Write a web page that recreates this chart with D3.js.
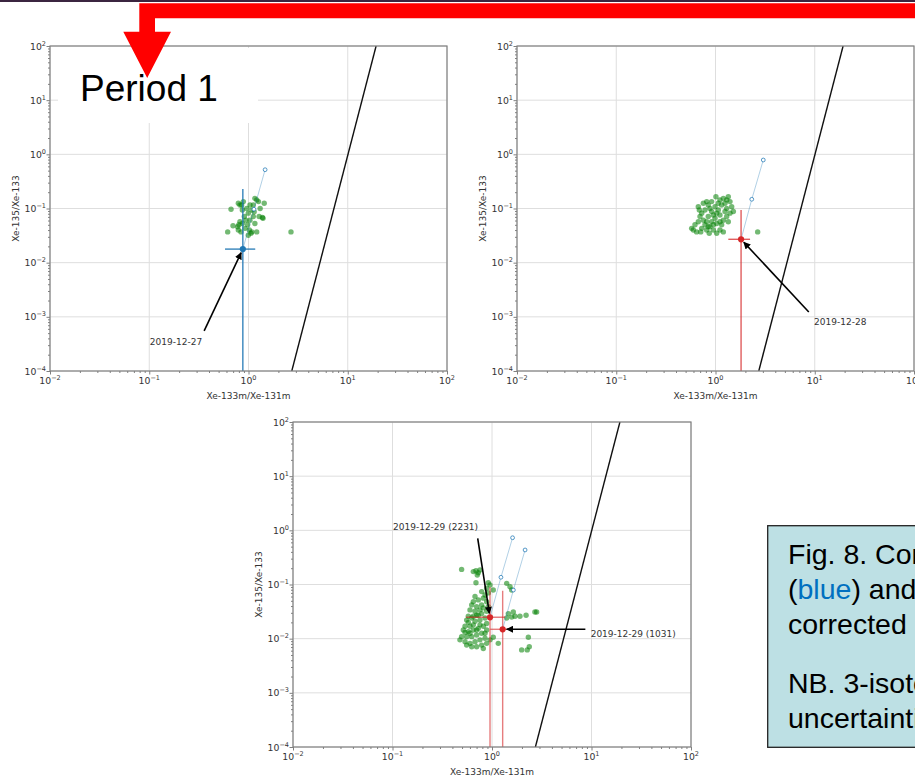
<!DOCTYPE html>
<html>
<head>
<meta charset="utf-8">
<script src="https://cdn.jsdelivr.net/npm/d3@7"></script>
<style>
html, body { margin: 0; padding: 0; background: #fff; overflow: hidden; }
svg { display: block; }
</style>
</head>
<body>
<svg id="slide" width="915" height="780"></svg>
<script>
// axis decades and labels
const X_EXPONENTS = [-2, -1, 0, 1, 2];
const Y_EXPONENTS = [-4, -3, -2, -1, 0, 1, 2];
const X_LABEL = "Xe-133m/Xe-131m";
const Y_LABEL = "Xe-135/Xe-133";

// discrimination line (same on all three plots)
const boundaryLine = [[2.73, 1e-4], [19.3, 1e2]];

// background (green) samples, [Xe-133m/Xe-131m, Xe-135/Xe-133]
const period1Points = [
  [0.667, 0.097], [0.617, 0.037], [0.698, 0.048], [0.79, 0.125], [0.82, 0.057], [0.80, 0.050],
  [0.84, 0.037], [0.79, 0.040], [0.867, 0.094], [0.908, 0.071], [0.938, 0.061], [0.98, 0.050],
  [0.923, 0.043], [0.995, 0.032], [1.06, 0.035], [1.16, 0.053], [1.21, 0.037], [1.28, 0.071],
  [1.38, 0.068], [1.16, 0.154], [1.21, 0.144], [1.26, 0.134], [1.12, 0.116], [1.08, 0.094],
  [1.14, 0.087], [1.44, 0.125], [1.08, 0.037], [0.853, 0.116], [0.887, 0.134], [0.995, 0.082],
  [0.96, 0.10], [0.82, 0.116], [1.035, 0.116], [0.867, 0.053], [0.778, 0.046], [1.31, 0.10],
  [1.12, 0.071], [1.035, 0.061], [1.40, 0.066], [1.02, 0.040], [2.68, 0.037]
];
const period2Points = [
  [0.575, 0.043], [0.645, 0.037], [0.621, 0.050], [0.671, 0.057], [0.698, 0.071], [0.687, 0.094],
  [0.671, 0.108], [0.754, 0.125], [0.815, 0.134], [0.845, 0.116], [0.783, 0.094], [0.879, 0.100],
  [0.914, 0.088], [0.951, 0.076], [0.845, 0.071], [0.754, 0.061], [0.783, 0.050], [0.726, 0.043],
  [0.815, 0.040], [0.879, 0.046], [0.914, 0.057], [0.989, 0.066], [1.028, 0.053], [0.951, 0.040],
  [1.028, 0.035], [1.109, 0.040], [1.153, 0.050], [1.199, 0.061], [1.109, 0.076], [1.067, 0.094],
  [1.153, 0.116], [1.109, 0.144], [1.199, 0.154], [1.297, 0.144], [1.40, 0.134], [1.456, 0.108],
  [1.513, 0.088], [1.40, 0.082], [1.297, 0.071], [1.346, 0.057], [1.199, 0.037], [1.067, 0.125],
  [0.989, 0.108], [0.914, 0.134], [0.726, 0.082], [0.710, 0.037], [0.865, 0.035], [1.297, 0.100],
  [1.247, 0.088], [1.01, 0.165], [0.598, 0.040], [0.815, 0.057], [0.951, 0.050], [1.028, 0.082],
  [1.247, 0.125], [1.346, 0.165], [0.845, 0.046], [1.109, 0.057], [2.66, 0.037]
];
const period3Points = [
  [0.495, 0.190], [0.649, 0.173], [0.690, 0.180], [0.728, 0.165], [0.757, 0.185], [0.711, 0.150],
  [0.690, 0.108], [0.918, 0.108], [0.955, 0.098], [0.884, 0.085], [1.03, 0.079], [0.787, 0.074],
  [1.405, 0.105], [1.517, 0.091], [1.577, 0.079], [0.851, 0.064], [0.818, 0.056], [0.728, 0.052],
  [0.649, 0.048], [0.625, 0.042], [0.701, 0.039], [0.787, 0.042], [0.884, 0.048], [0.918, 0.039],
  [0.757, 0.034], [0.675, 0.032], [0.601, 0.034], [0.578, 0.026], [0.556, 0.022], [0.625, 0.024],
  [0.701, 0.027], [0.787, 0.029], [0.884, 0.032], [0.851, 0.024], [0.757, 0.022], [0.675, 0.021],
  [0.649, 0.018], [0.601, 0.017], [0.536, 0.017], [0.515, 0.0145], [0.578, 0.0135], [0.649, 0.0145],
  [0.728, 0.0155], [0.818, 0.017], [0.884, 0.019], [0.787, 0.0126], [0.701, 0.0117], [0.625, 0.0109],
  [0.556, 0.0109], [0.495, 0.0109], [0.476, 0.0095], [0.536, 0.0088], [0.601, 0.0082], [0.675, 0.0088],
  [0.757, 0.0095], [0.851, 0.0102], [0.884, 0.0082], [0.787, 0.0076], [0.701, 0.0071], [0.625, 0.0071],
  [0.556, 0.0076], [0.955, 0.0095], [1.03, 0.0106], [1.156, 0.0082], [0.818, 0.0066], [1.405, 0.024],
  [1.577, 0.025], [1.703, 0.026], [1.91, 0.026], [2.20, 0.027], [2.70, 0.031], [2.81, 0.031],
  [1.459, 0.029], [1.637, 0.031], [2.32, 0.0106], [2.37, 0.0071], [1.986, 0.0062], [2.26, 0.0062],
  [0.728, 0.027], [0.649, 0.026], [0.757, 0.018], [0.701, 0.0145], [0.601, 0.0126], [0.884, 0.0145],
  [0.851, 0.0126], [0.536, 0.0130], [0.578, 0.020], [0.818, 0.037], [0.675, 0.060], [0.918, 0.070]
];

// highlighted samples: point, error extents [xLo, xHi, yLo, yHi], decay track
const sample1227 = [0.877, 0.0178];
const sample1227Err = [0.58, 1.17, 1e-6, 0.229];
const sample1227Track = [[0.877, 0.0178], [1.135, 0.097], [1.47, 0.52]];

const sample1228 = [1.81, 0.027];
const sample1228Err = [1.346, 2.23, 1e-6, 0.094];
const sample1228Track = [[1.81, 0.027], [2.32, 0.148], [3.03, 0.786]];

const sample1229a = [0.955, 0.0248];
const sample1229aErr = [0.548, 1.35, 1e-6, 0.089];
const sample1229aTrack = [[0.955, 0.0248], [1.23, 0.136], [1.61, 0.73]];

const sample1229b = [1.28, 0.0149];
const sample1229bErr = [0.96, 1.6, 1e-6, 0.077];
const sample1229bTrack = [[1.28, 0.0149], [1.64, 0.079], [2.15, 0.434]];

const annotationLabels = ["2019-12-27", "2019-12-28", "2019-12-29 (2231)", "2019-12-29 (1031)"];

const BLUE = "#1f77b4";
const RED = "#d62728";
const GREEN = "#008000";
const MPL_FONT = "'DejaVu Sans', sans-serif";

const svg = d3.select("#slide");

// arrowhead marker for the annotations
svg.append("defs").append("marker")
    .attr("id", "head")
    .attr("viewBox", "0 0 10 10")
    .attr("refX", 9).attr("refY", 5)
    .attr("markerWidth", 4.5).attr("markerHeight", 4.5)
    .attr("markerUnits", "strokeWidth")
    .attr("orient", "auto")
  .append("path")
    .attr("d", "M0,0 L10,5 L0,10 z")
    .attr("fill", "#000");

function pow10Label(sel, e){
    sel.text("10")
       .append("tspan")
       .attr("dy", -4)
       .attr("font-size", 6.5)
       .text(e < 0 ? "\u2212" + (-e) : e);
}

function drawPanel(p){
    const x = d3.scaleLog().domain([1e-2, 1e2]).range([p.left, p.left + p.width]);
    const y = d3.scaleLog().domain([1e-4, 1e2]).range([p.top + p.height, p.top]);
    const g = svg.append("g");

    g.append("clipPath").attr("id", "clip" + p.id)
      .append("rect")
        .attr("x", p.left).attr("y", p.top)
        .attr("width", p.width).attr("height", p.height);

    // grid
    g.selectAll(".gx").data(X_EXPONENTS).join("line")
        .attr("x1", e => x(Math.pow(10, e))).attr("x2", e => x(Math.pow(10, e)))
        .attr("y1", p.top).attr("y2", p.top + p.height)
        .attr("stroke", "#dedede").attr("stroke-width", 1);
    g.selectAll(".gy").data(Y_EXPONENTS).join("line")
        .attr("y1", e => y(Math.pow(10, e))).attr("y2", e => y(Math.pow(10, e)))
        .attr("x1", p.left).attr("x2", p.left + p.width)
        .attr("stroke", "#dedede").attr("stroke-width", 1);

    const plot = g.append("g").attr("clip-path", `url(#clip${p.id})`);
    const line = d3.line().x(d => x(d[0])).y(d => y(d[1]));

    plot.append("path")
        .attr("d", line(boundaryLine))
        .attr("fill", "none").attr("stroke", "#111").attr("stroke-width", 1.4);

    // green background samples
    plot.selectAll(".bg").data(p.points).join("circle")
        .attr("cx", d => x(d[0])).attr("cy", d => y(d[1]))
        .attr("r", 2.7)
        .attr("fill", GREEN).attr("fill-opacity", 0.55);

    p.samples.forEach(s => {
        // decay track
        plot.append("path")
            .attr("d", line(s.track))
            .attr("fill", "none").attr("stroke", BLUE)
            .attr("stroke-opacity", 0.35).attr("stroke-width", 1);
        plot.selectAll(null).data(s.track.slice(1)).join("circle")
            .attr("cx", d => x(d[0])).attr("cy", d => y(d[1]))
            .attr("r", 1.9)
            .attr("fill", "#fff").attr("stroke", BLUE)
            .attr("stroke-opacity", 0.75).attr("stroke-width", 1);

        // error bars
        const [xLo, xHi, yLo, yHi] = s.err;
        plot.append("line")
            .attr("x1", x(xLo)).attr("x2", x(xHi))
            .attr("y1", y(s.point[1])).attr("y2", y(s.point[1]))
            .attr("stroke", s.color).attr("stroke-opacity", s.errOpacity).attr("stroke-width", 1.4);
        plot.append("line")
            .attr("x1", x(s.point[0])).attr("x2", x(s.point[0]))
            .attr("y1", y(yLo)).attr("y2", y(yHi))
            .attr("stroke", s.color).attr("stroke-opacity", s.errOpacity).attr("stroke-width", 1.4);

        plot.append("circle")
            .attr("cx", x(s.point[0])).attr("cy", y(s.point[1]))
            .attr("r", 3.1).attr("fill", s.color);
    });

    // annotations: arrow from text to the sample
    p.samples.forEach(s => {
        const px = x(s.point[0]), py = y(s.point[1]);
        const tx = px + s.tail[0], ty = py + s.tail[1];
        const len = Math.hypot(s.tail[0], s.tail[1]);
        const hx = px + s.tail[0] / len * 4, hy = py + s.tail[1] / len * 4;
        g.append("line")
            .attr("x1", tx).attr("y1", ty).attr("x2", hx).attr("y2", hy)
            .attr("stroke", "#000").attr("stroke-width", 1.6)
            .attr("marker-end", "url(#head)");
        g.append("text")
            .attr("x", px + s.text[0]).attr("y", py + s.text[1])
            .attr("font-family", MPL_FONT).attr("font-size", 9)
            .attr("fill", "#333")
            .text(s.label);
    });

    // frame
    g.append("rect")
        .attr("x", p.left).attr("y", p.top)
        .attr("width", p.width).attr("height", p.height)
        .attr("fill", "none").attr("stroke", "#808080").attr("stroke-width", 1.2);

    // ticks
    const majorX = X_EXPONENTS.map(e => Math.pow(10, e));
    const majorY = Y_EXPONENTS.map(e => Math.pow(10, e));
    const isMajor = v => Math.abs(Math.log10(v) - Math.round(Math.log10(v))) < 1e-9;

    const minorX = g.append("g").attr("transform", `translate(0,${p.top + p.height})`)
        .call(d3.axisBottom(x).tickValues(x.ticks().filter(v => !isMajor(v)))
            .tickSize(2).tickSizeOuter(0).tickFormat(""));
    const minorY = g.append("g").attr("transform", `translate(${p.left},0)`)
        .call(d3.axisLeft(y).tickValues(y.ticks().filter(v => !isMajor(v)))
            .tickSize(2).tickSizeOuter(0).tickFormat(""));
    const majX = g.append("g").attr("transform", `translate(0,${p.top + p.height})`)
        .call(d3.axisBottom(x).tickValues(majorX).tickSize(3.5).tickSizeOuter(0).tickFormat(""));
    const majY = g.append("g").attr("transform", `translate(${p.left},0)`)
        .call(d3.axisLeft(y).tickValues(majorY).tickSize(3.5).tickSizeOuter(0).tickFormat(""));
    [minorX, minorY, majX, majY].forEach(a => {
        a.select(".domain").remove();
        a.selectAll("line").attr("stroke", "#808080");
    });

    g.selectAll(".xl").data(X_EXPONENTS).join("text")
        .attr("x", e => x(Math.pow(10, e)))
        .attr("y", p.top + p.height + 13)
        .attr("text-anchor", "middle")
        .attr("font-family", MPL_FONT).attr("font-size", 9.3).attr("fill", "#333")
        .each(function(e){ pow10Label(d3.select(this), e); });
    g.selectAll(".yl").data(Y_EXPONENTS).join("text")
        .attr("x", p.left - 4)
        .attr("y", e => y(Math.pow(10, e)) + 3.5)
        .attr("text-anchor", "end")
        .attr("font-family", MPL_FONT).attr("font-size", 9.3).attr("fill", "#333")
        .each(function(e){ pow10Label(d3.select(this), e); });

    g.append("text")
        .attr("x", p.left + p.width / 2).attr("y", p.top + p.height + 28)
        .attr("text-anchor", "middle")
        .attr("font-family", MPL_FONT).attr("font-size", 9).attr("fill", "#333")
        .text(X_LABEL);
    g.append("text")
        .attr("transform", `translate(${p.left - 31},${p.top + p.height / 2}) rotate(-90)`)
        .attr("text-anchor", "middle")
        .attr("font-family", MPL_FONT).attr("font-size", 9).attr("fill", "#333")
        .text(Y_LABEL);
}

const PANELS = [
    { id: 1, left: 50, top: 46, width: 397, height: 325, points: period1Points,
      samples: [
        { point: sample1227, err: sample1227Err, track: sample1227Track, color: BLUE, errOpacity: 0.9,
          label: annotationLabels[0], tail: [-38.7, 81.7], text: [-93, 95.5] }
      ] },
    { id: 2, left: 517, top: 46, width: 397, height: 325, points: period2Points,
      samples: [
        { point: sample1228, err: sample1228Err, track: sample1228Track, color: RED, errOpacity: 0.75,
          label: annotationLabels[1], tail: [67.7, 72.7], text: [73, 86] }
      ] },
    { id: 3, left: 293, top: 422, width: 398, height: 325, points: period3Points,
      samples: [
        { point: sample1229a, err: sample1229aErr, track: sample1229aTrack, color: RED, errOpacity: 0.6,
          label: annotationLabels[2], tail: [-12.3, -79], text: [-97, -87.3] },
        { point: sample1229b, err: sample1229bErr, track: sample1229bTrack, color: RED, errOpacity: 0.6,
          label: annotationLabels[3], tail: [82.7, 0], text: [88, 8] }
      ] }
];

PANELS.forEach(drawPanel);

// "Period 1" label on a white patch
svg.append("rect")
    .attr("x", 58).attr("y", 48).attr("width", 200).attr("height", 75)
    .attr("fill", "#fff");
svg.append("text")
    .attr("x", 80).attr("y", 101)
    .attr("font-family", "'Liberation Sans', Arial, sans-serif")
    .attr("font-size", 37)
    .attr("fill", "#000")
    .text("Period 1");

// slide top strip and red bent arrow
svg.append("rect").attr("x", 0).attr("y", 0).attr("width", 915).attr("height", 2).attr("fill", "#3b2540");
svg.append("path")
    .attr("d", "M139.3,3.3 L915,3.3 L915,18.3 L155,18.3 L155,31.7 L171,31.7 L147.2,78 L123.3,31.7 L139.3,31.7 Z")
    .attr("fill", "#ff0000");

// caption box (runs off the right edge of the slide crop)
svg.append("rect")
    .attr("x", 767.7).attr("y", 525.7).attr("width", 200).attr("height", 221.6)
    .attr("fill", "#bde0e4").attr("stroke", "#222").attr("stroke-width", 1.3);

const caption = svg.append("text")
    .attr("font-family", "'Liberation Sans', Arial, sans-serif")
    .attr("font-size", 28.5)
    .attr("fill", "#000");
caption.append("tspan").attr("x", 788).attr("y", 563.5).text("Fig. 8. Comparison");
const l2 = caption.append("tspan").attr("x", 788).attr("y", 599);
l2.append("tspan").text("(");
l2.append("tspan").attr("fill", "#0070c0").text("blue");
l2.append("tspan").text(") and decay-");
caption.append("tspan").attr("x", 788).attr("y", 634).text("corrected (red)");
caption.append("tspan").attr("x", 788).attr("y", 693).text("NB. 3-isotope");
caption.append("tspan").attr("x", 788).attr("y", 728).text("uncertainties");
</script>
</body>
</html>
